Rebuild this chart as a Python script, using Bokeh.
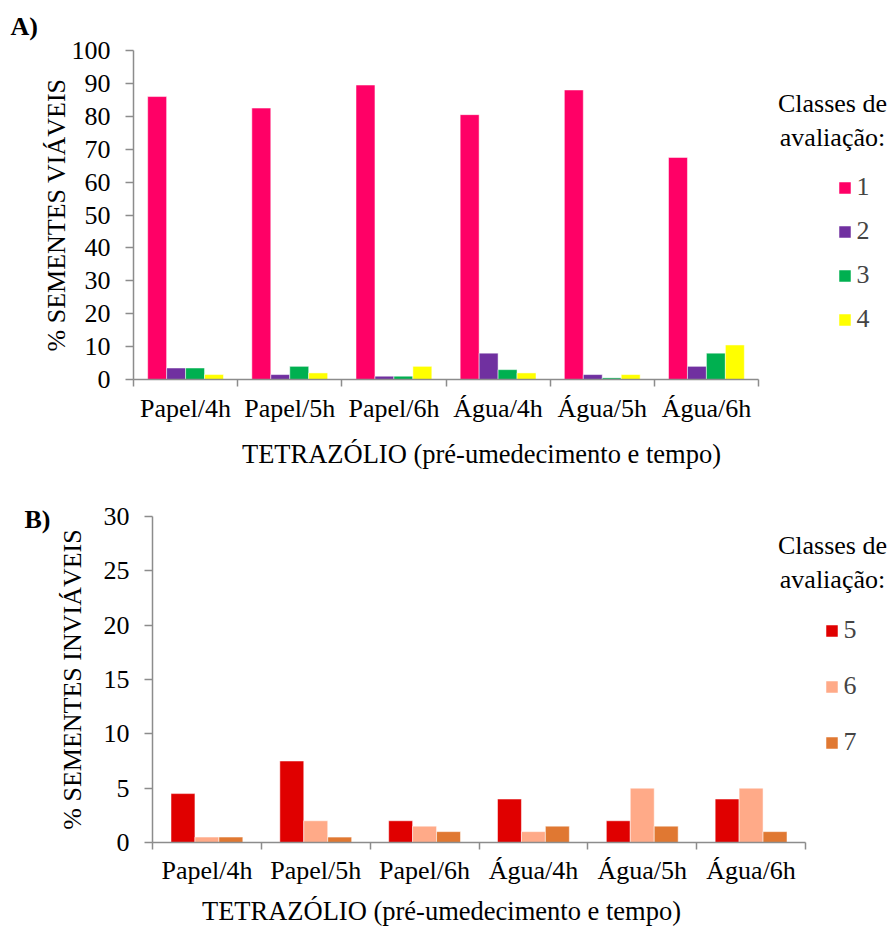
from bokeh.plotting import figure
from bokeh.models import (FixedTicker, Label, Legend, LegendItem, ColumnDataSource,
                          Range1d, LinearAxis)
from bokeh.layouts import column
from bokeh.embed import file_html
from bokeh.resources import INLINE

categories = ["Papel/4h", "Papel/5h", "Papel/6h", "Água/4h", "Água/5h", "Água/6h"]

# Chart A - viable seeds (%)
classes_a = ["1", "2", "3", "4"]
class1 = [86, 82.5, 89.5, 80.5, 88, 67.5]
class2 = [3.5, 1.5, 1, 8, 1.5, 4]
class3 = [3.5, 4, 1, 3, 0.5, 8]
class4 = [1.5, 2, 4, 2, 1.5, 10.5]
colors_a = ["#FF0066", "#7030A0", "#00B050", "#FFFF00"]
yticks_a = [0, 10, 20, 30, 40, 50, 60, 70, 80, 90, 100]

# Chart B - non-viable seeds (%)
classes_b = ["5", "6", "7"]
class5 = [4.5, 7.5, 2, 4, 2, 4]
class6 = [0.5, 2, 1.5, 1, 5, 5]
class7 = [0.5, 0.5, 1, 1.5, 1.5, 1]
colors_b = ["#E00000", "#FFAA88", "#E07832"]
yticks_b = [0, 5, 10, 15, 20, 25, 30]

x_title = "TETRAZÓLIO (pré-umedecimento e tempo)"
FONT = "'Liberation Serif', 'Times New Roman', serif"
FS = "26px"
AXIS_COLOR = "#8C8C8C"
WIDTH = 890


def make_chart(series, classes, colors, yticks, ylabel, panel, cfg):
    H = cfg["H"]
    ncat = len(categories)
    # pixel geometry of the plotting area inside the canvas
    x0px, x1px = cfg["x0px"], cfg["x1px"]
    ytop, ybot = cfg["ytop"], cfg["ybot"]
    ux = (x1px - x0px) / ncat
    uy = (ybot - ytop) / (yticks[-1] - yticks[0])
    xr = Range1d(-x0px / ux, ncat + (WIDTH - x1px) / ux)
    yr = Range1d(yticks[0] - (H - ybot) / uy, yticks[-1] + ytop / uy)

    p = figure(width=WIDTH, height=H, x_range=xr, y_range=yr,
               x_axis_location=None, y_axis_location=None,
               min_border=0, output_backend="svg", toolbar_location=None)
    p.outline_line_color = None
    p.xgrid.grid_line_color = None
    p.ygrid.grid_line_color = None
    p.background_fill_color = "white"
    p.border_fill_color = "white"

    n = len(series)
    w = cfg["bw"]
    items = []
    for k, (vals, cname, col) in enumerate(zip(series, classes, colors)):
        off = (k - (n - 1) / 2) * w
        xs = [i + 0.5 + off for i in range(ncat)]
        src = ColumnDataSource(dict(x=xs, top=vals))
        r = p.vbar(x="x", top="top", bottom=0, width=w, source=src,
                   fill_color=col, line_color="white", line_alpha=0.5, line_width=1)
        items.append(LegendItem(label=cname, renderers=[r]))

    centers = [i + 0.5 for i in range(ncat)]
    xa = LinearAxis(fixed_location=yticks[0], bounds=(0, ncat))
    xa.ticker = FixedTicker(ticks=centers, minor_ticks=list(range(ncat + 1)))
    xa.major_label_overrides = {c: cat for c, cat in zip(centers, categories)}
    xa.major_tick_line_color = None
    xa.major_tick_out = 0
    xa.major_tick_in = 0
    xa.minor_tick_line_color = AXIS_COLOR
    xa.minor_tick_out = 7
    xa.minor_tick_in = 0
    xa.axis_line_color = AXIS_COLOR
    xa.axis_line_width = 1.5
    xa.minor_tick_line_width = 1.5
    xa.major_label_text_font = FONT
    xa.major_label_text_font_size = FS
    xa.major_label_text_color = "black"
    xa.major_label_standoff = cfg["xstand"]
    p.add_layout(xa, "below")

    ya = LinearAxis(fixed_location=0, bounds=(yticks[0], yticks[-1]))
    ya.ticker = FixedTicker(ticks=yticks)
    ya.minor_tick_line_color = None
    ya.major_tick_line_color = AXIS_COLOR
    ya.major_tick_line_width = 1.5
    ya.major_tick_out = 8
    ya.major_tick_in = 0
    ya.axis_line_color = AXIS_COLOR
    ya.axis_line_width = 1.5
    ya.major_label_text_font = FONT
    ya.major_label_text_font_size = FS
    ya.major_label_text_color = "black"
    ya.major_label_standoff = 15
    ya.axis_label = ylabel
    ya.axis_label_text_font = FONT
    ya.axis_label_text_font_size = FS
    ya.axis_label_text_font_style = "normal"
    ya.axis_label_text_color = "black"
    ya.axis_label_standoff = cfg["ystand"]
    p.add_layout(ya, "left")

    legend = Legend(items=items, location=cfg["leg"], orientation="vertical",
                    glyph_width=15, glyph_height=15, label_height=30,
                    spacing=cfg["lspace"], padding=0, margin=0,
                    border_line_color=None, background_fill_alpha=0,
                    label_text_font=FONT, label_text_font_size=FS,
                    label_standoff=5)
    p.add_layout(legend)

    for txt, yy in zip(["Classes de", "avaliação:"], cfg["ttl_y"]):
        p.add_layout(Label(x=cfg["ttl_x"], y=yy, x_units="screen", y_units="screen",
                           text=txt, text_align="center", text_baseline="middle",
                           text_font=FONT, text_font_size=FS, text_color="black"))

    p.add_layout(Label(x=cfg["xt"][0], y=cfg["xt"][1], x_units="screen", y_units="screen",
                       text=x_title, text_align="center", text_baseline="middle",
                       text_font=FONT, text_font_size="26.5px", text_color="black"))

    p.add_layout(Label(x=cfg["pl"][0], y=cfg["pl"][1], x_units="screen", y_units="screen",
                       text=panel, text_align="left", text_baseline="middle",
                       text_font=FONT, text_font_size=FS, text_font_style="bold",
                       text_color="black"))
    return p


cfg_a = dict(H=472, x0px=133, x1px=758, ytop=50, ybot=379, bw=0.182,
             xstand=7, ystand=-2, leg=(836.5, 138), lspace=14,
             ttl_x=832, ttl_y=[369, 335], xt=(481, 19), pl=(10, 446))
cfg_b = dict(H=456, x0px=152, x1px=805, ytop=44, ybot=370, bw=0.22,
             xstand=6, ystand=14, leg=(823.5, 171), lspace=26,
             ttl_x=832, ttl_y=[383, 349], xt=(441, 18), pl=(24, 409))

pa = make_chart([class1, class2, class3, class4], classes_a, colors_a, yticks_a,
                "% SEMENTES VIÁVEIS", "A)", cfg_a)
pb = make_chart([class5, class6, class7], classes_b, colors_b, yticks_b,
                "% SEMENTES INVIÁVEIS", "B)", cfg_b)

layout = column(pa, pb, spacing=0)
open("out.html", "w").write(file_html(layout, INLINE))
